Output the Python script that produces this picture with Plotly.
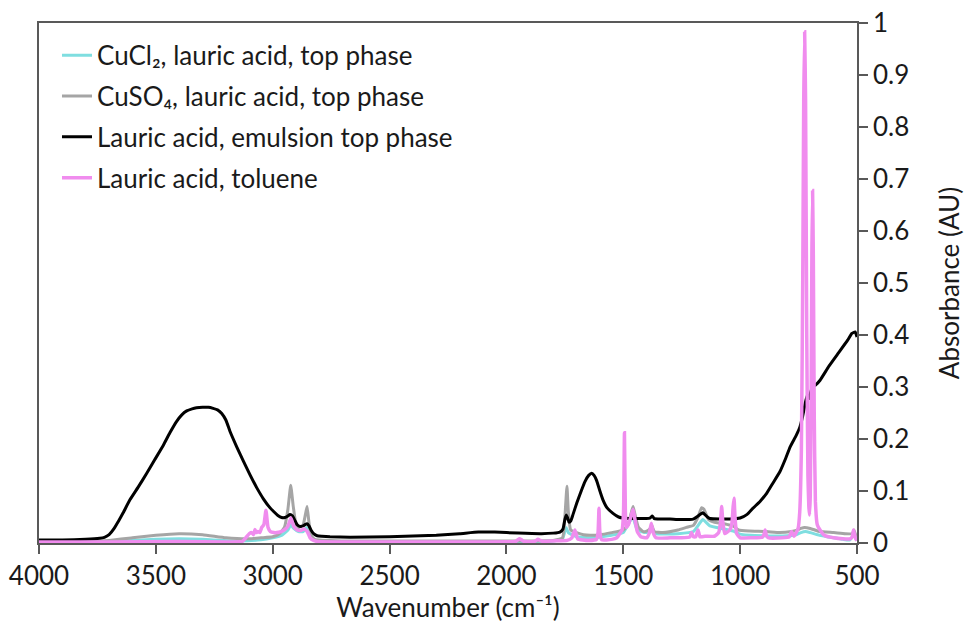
import plotly.graph_objects as go

# ---------------- data ----------------
tol_wn = [4000, 3700, 3400, 3200, 3130, 3100, 3090, 3082, 3076, 3070, 3063, 3055, 3047, 3038,
          3029, 3020, 3010, 2995, 2983, 2965, 2948, 2935, 2922, 2910, 2895, 2880, 2866, 2852,
          2840, 2825, 2810, 2700, 2400, 2100, 1960, 1945, 1935, 1925, 1880, 1865, 1855, 1845,
          1800, 1740, 1720, 1707, 1695, 1650, 1615, 1608, 1604, 1600, 1592, 1550, 1528, 1515,
          1505, 1499, 1495, 1491, 1487, 1478, 1465, 1458, 1450, 1440, 1425, 1400, 1388, 1380,
          1372, 1360, 1300, 1250, 1215, 1208, 1200, 1190, 1180, 1172, 1150, 1110, 1092, 1084,
          1079, 1074, 1066, 1058, 1045, 1036, 1030, 1026, 1022, 1015, 1000, 950, 905, 897, 893,
          888, 880, 820, 790, 780, 770, 760, 752, 745, 738, 732, 728, 724, 720, 715, 710, 706,
          703, 700, 696, 693, 690, 687, 683, 678, 670, 658, 640, 600, 560, 530, 520, 515, 510,
          505, 500]
tol_abs = [0.002, 0.002, 0.003, 0.002, 0.003, 0.018, 0.020, 0.016, 0.026, 0.020, 0.022, 0.020,
           0.030, 0.035, 0.063, 0.030, 0.022, 0.020, 0.020, 0.022, 0.026, 0.032, 0.048, 0.032,
           0.025, 0.024, 0.027, 0.022, 0.010, 0.005, 0.003, 0.002, 0.002, 0.002, 0.003, 0.008,
           0.006, 0.003, 0.003, 0.007, 0.005, 0.003, 0.004, 0.005, 0.010, 0.025, 0.008, 0.005,
           0.007, 0.020, 0.067, 0.020, 0.006, 0.007, 0.010, 0.018, 0.025, 0.060, 0.212, 0.060,
           0.030, 0.035, 0.055, 0.065, 0.045, 0.022, 0.012, 0.010, 0.020, 0.038, 0.020, 0.010,
           0.010, 0.010, 0.012, 0.020, 0.012, 0.012, 0.025, 0.012, 0.013, 0.013, 0.020, 0.040,
           0.070, 0.040, 0.018, 0.020, 0.025, 0.035, 0.070, 0.086, 0.050, 0.018, 0.010, 0.010,
           0.011, 0.018, 0.025, 0.015, 0.010, 0.010, 0.012, 0.022, 0.013, 0.020, 0.028, 0.060,
           0.180, 0.520, 0.850, 0.983, 0.850, 0.400, 0.130, 0.070, 0.054, 0.090, 0.300, 0.560,
           0.678, 0.560, 0.250, 0.080, 0.035, 0.025, 0.015, 0.010, 0.008, 0.008, 0.012, 0.025,
           0.015, 0.008, 0.005]

emu_wn = [4000, 3900, 3800, 3740, 3720, 3700, 3680, 3660, 3640, 3611, 3575, 3539, 3505, 3468,
          3440, 3411, 3390, 3368, 3345, 3326, 3300, 3275, 3255, 3236, 3218, 3200, 3183, 3155,
          3126, 3097, 3068, 3040, 3012, 2995, 2978, 2962, 2948, 2935, 2926, 2915, 2905, 2895,
          2885, 2870, 2860, 2853, 2845, 2835, 2825, 2810, 2790, 2755, 2669, 2500, 2300, 2200,
          2120, 2050, 1950, 1850, 1800, 1771, 1758, 1750, 1744, 1738, 1732, 1725, 1715, 1699,
          1680, 1664, 1648, 1635, 1625, 1614, 1600, 1587, 1570, 1544, 1520, 1500, 1442, 1386,
          1376, 1368, 1300, 1257, 1201, 1180, 1160, 1140, 1129, 1043, 1000, 970, 945, 915, 886,
          860, 829, 805, 786, 760, 745, 732, 722, 712, 704, 698, 690, 679, 658, 620, 580, 540,
          522, 508, 500]
emu_abs = [0.006, 0.006, 0.007, 0.009, 0.011, 0.016, 0.027, 0.042, 0.058, 0.083, 0.108, 0.134,
           0.160, 0.188, 0.212, 0.234, 0.246, 0.254, 0.258, 0.260, 0.261, 0.261, 0.259, 0.256,
           0.249, 0.236, 0.215, 0.186, 0.158, 0.131, 0.106, 0.085, 0.068, 0.060, 0.053, 0.049,
           0.049, 0.052, 0.055, 0.052, 0.043, 0.035, 0.032, 0.033, 0.036, 0.037, 0.033, 0.024,
           0.018, 0.014, 0.013, 0.012, 0.011, 0.012, 0.015, 0.018, 0.021, 0.021, 0.019, 0.018,
           0.019, 0.021, 0.027, 0.045, 0.054, 0.048, 0.040, 0.042, 0.055, 0.077, 0.100, 0.118,
           0.130, 0.134, 0.130, 0.120, 0.100, 0.083, 0.068, 0.057, 0.050, 0.048, 0.047, 0.048,
           0.052, 0.047, 0.046, 0.045, 0.046, 0.052, 0.058, 0.050, 0.047, 0.046, 0.048, 0.055,
           0.067, 0.080, 0.096, 0.115, 0.138, 0.163, 0.185, 0.207, 0.222, 0.245, 0.268, 0.285,
           0.278, 0.290, 0.300, 0.303, 0.313, 0.340, 0.365, 0.390, 0.403, 0.406, 0.396]

so4_wn = [4000, 3800, 3700, 3600, 3500, 3400, 3300, 3200, 3100, 3050, 3000, 2970, 2950, 2935,
          2923, 2912, 2900, 2890, 2870, 2860, 2853, 2845, 2835, 2820, 2700, 2400, 2000, 1800,
          1760, 1750, 1741, 1735, 1725, 1700, 1670, 1642, 1600, 1550, 1500, 1480, 1465, 1458,
          1450, 1435, 1415, 1400, 1385, 1377, 1368, 1330, 1266, 1230, 1200, 1180, 1165, 1155,
          1135, 1110, 1080, 1050, 1030, 1007, 960, 890, 830, 780, 760, 740, 724, 700, 680, 660,
          600, 550, 520, 513, 505, 500]
so4_abs = [0.003, 0.003, 0.005, 0.010, 0.015, 0.018, 0.016, 0.010, 0.008, 0.010, 0.012, 0.018,
           0.030, 0.065, 0.111, 0.070, 0.035, 0.030, 0.035, 0.055, 0.070, 0.040, 0.015, 0.007,
           0.004, 0.004, 0.004, 0.005, 0.010, 0.050, 0.109, 0.060, 0.025, 0.020, 0.016, 0.015,
           0.016, 0.020, 0.025, 0.035, 0.060, 0.070, 0.055, 0.030, 0.022, 0.023, 0.028, 0.033,
           0.022, 0.020, 0.025, 0.030, 0.034, 0.050, 0.068, 0.065, 0.045, 0.040, 0.038, 0.035,
           0.033, 0.025, 0.023, 0.022, 0.020, 0.022, 0.024, 0.028, 0.030, 0.028, 0.025, 0.022,
           0.020, 0.018, 0.018, 0.025, 0.015, 0.012]

cl2_wn = [4000, 3700, 3500, 3400, 3300, 3150, 3050, 3000, 2960, 2935, 2923, 2910, 2890, 2870,
          2855, 2840, 2820, 2700, 2000, 1800, 1760, 1745, 1735, 1700, 1640, 1550, 1500, 1460,
          1440, 1400, 1378, 1360, 1266, 1200, 1160, 1130, 1080, 1030, 1000, 900, 800, 760, 740,
          720, 700, 660, 600, 560, 530, 515, 500]
cl2_abs = [0.002, 0.003, 0.007, 0.008, 0.007, 0.004, 0.006, 0.010, 0.015, 0.025, 0.035, 0.028,
           0.022, 0.022, 0.030, 0.015, 0.005, 0.003, 0.003, 0.004, 0.008, 0.030, 0.020, 0.012,
           0.010, 0.015, 0.020, 0.050, 0.025, 0.020, 0.028, 0.018, 0.018, 0.022, 0.045, 0.033,
           0.028, 0.023, 0.017, 0.014, 0.014, 0.016, 0.020, 0.022, 0.020, 0.015, 0.010, 0.007,
           0.006, 0.015, 0.005]

series_names = ["CuCl₂, lauric acid, top phase",
                "CuSO₄, lauric acid, top phase",
                "Lauric acid, emulsion top phase",
                "Lauric acid, toluene"]
series_colors = ["#7FDEE0", "#A5A5A5", "#000000", "#F08CEE"]
series_widths = [3, 3, 3, 3.5]

x_ticks = [4000, 3500, 3000, 2500, 2000, 1500, 1000, 500]
y_ticks = [0, 0.1, 0.2, 0.3, 0.4, 0.5, 0.6, 0.7, 0.8, 0.9, 1]
y_ticktext = ["0", "0.1", "0.2", "0.3", "0.4", "0.5", "0.6", "0.7", "0.8", "0.9", "1"]

# ---------------- figure ----------------
FONT = "Lato, 'Open Sans', sans-serif"
fig = go.Figure()
data = [(cl2_wn, cl2_abs), (so4_wn, so4_abs), (emu_wn, emu_abs), (tol_wn, tol_abs)]
for i, ((wx, wy), name, col, w) in enumerate(zip(data, series_names, series_colors, series_widths)):
    fig.add_trace(go.Scatter(x=wx, y=wy, mode="lines", name=name,
                             legendgroup=f"g{i}",
                             line=dict(color=col, width=w, shape="spline", smoothing=0.4)))

axis_col = "#595959"
fig.update_layout(
    width=965, height=627,
    margin=dict(l=39, r=108, t=23, b=84),
    paper_bgcolor="white", plot_bgcolor="white",
    font=dict(family=FONT, size=26, color="#1a1a1a"),
    showlegend=True,
    legend=dict(x=0.022, y=0.983, xanchor="left", yanchor="top",
                bgcolor="rgba(0,0,0,0)", borderwidth=0,
                font=dict(size=26), tracegroupgap=4),
    xaxis=dict(range=[4000, 500], tickvals=x_ticks, ticks="outside", ticklen=9,
               tickcolor=axis_col, tickwidth=1.5, showline=True, linecolor=axis_col,
               linewidth=1.5, mirror=True, showgrid=False, zeroline=False,
               automargin=False, tickfont=dict(size=26),
               title=dict(text="Wavenumber (cm⁻¹)", font=dict(size=26), standoff=4)),
    yaxis=dict(range=[0, 1], side="right", tickvals=y_ticks, ticktext=y_ticktext,
               ticks="outside", ticklen=9, tickcolor=axis_col, tickwidth=1.5,
               showline=True, linecolor=axis_col, linewidth=1.5, mirror=True,
               showgrid=False, zeroline=False, automargin=False, tickfont=dict(size=26),
               title=dict(text="Absorbance (AU)", font=dict(size=26), standoff=34)),
)

fig.write_html("out.html")
